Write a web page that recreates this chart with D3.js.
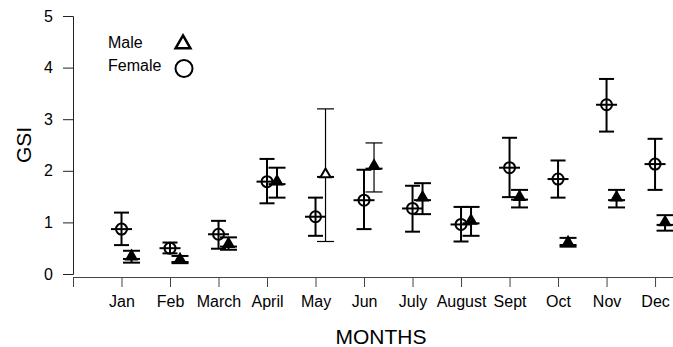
<!DOCTYPE html>
<html>
<head>
<meta charset="utf-8">
<style>
  body { margin: 0; background: #fff; }
  svg text { font-family: "Liberation Sans", Arial, sans-serif; fill: #000; }
</style>
</head>
<body>
<script src="https://cdn.jsdelivr.net/npm/d3@7"></script>
<script>
// GSI per month
var months = ["Jan", "Feb", "March", "April", "May", "Jun", "July", "August", "Sept", "Oct", "Nov", "Dec"]
var femaleMean = [0.87, 0.50, 0.77, 1.79, 1.11, 1.43, 1.27, 0.96, 2.06, 1.84, 3.28, 2.13]
var femaleLow  = [0.56, 0.40, 0.49, 1.37, 0.74, 0.87, 0.82, 0.63, 1.49, 1.48, 2.76, 1.63]
var femaleHigh = [1.19, 0.61, 1.03, 2.23, 1.48, 2.02, 1.71, 1.30, 2.64, 2.20, 3.78, 2.62]
var maleMean = [0.34, 0.28, 0.58, 1.79, 1.93, 2.09, 1.48, 1.03, 1.49, 0.61, 1.48, 1.00]
var maleLow  = [0.22, 0.21, 0.47, 1.48, 0.63, 1.59, 1.16, 0.74, 1.29, 0.53, 1.29, 0.84]
var maleHigh = [0.45, 0.35, 0.71, 2.06, 3.20, 2.54, 1.76, 1.30, 1.63, 0.70, 1.63, 1.14]
var yTicks = [0, 1, 2, 3, 4, 5]

var width = 673, height = 347

var svg = d3.select("body").append("svg")
    .attr("width", width)
    .attr("height", height)

var x = d3.scaleLinear().domain([0, 12.37]).range([73, 673])
var y = d3.scaleLinear().domain([0, 5]).range([274, 16])

// y axis
var yAxis = svg.append("g")
    .attr("transform", "translate(73,0)")
    .call(d3.axisLeft(y).tickValues(yTicks).tickSize(10).tickPadding(10).tickFormat(d3.format("d")))
yAxis.selectAll("text").style("font-size", "16px")
yAxis.selectAll("path, line").attr("stroke", "#222")

// x axis sits a little below zero
var xAxis = svg.append("g")
    .attr("transform", "translate(0,277)")
    .call(d3.axisBottom(x).tickValues(d3.range(0, 13)).tickSizeOuter(0).tickSize(10).tickPadding(9)
        .tickFormat(d => d === 0 ? "" : months[d - 1]))
xAxis.selectAll("text").style("font-size", "16px")
xAxis.selectAll("path, line").attr("stroke", "#444")

svg.append("text")
    .attr("transform", "translate(31,145) rotate(-90)")
    .attr("text-anchor", "middle")
    .style("font-size", "21px")
    .text("GSI")

svg.append("text")
    .attr("x", 381)
    .attr("y", 344)
    .attr("text-anchor", "middle")
    .style("font-size", "21px")
    .text("MONTHS")

// build rows
var female = months.map((m, i) => ({i: i + 1, mean: femaleMean[i], lo: femaleLow[i], hi: femaleHigh[i]}))
var male = months.map((m, i) => ({i: i + 1, mean: maleMean[i], lo: maleLow[i], hi: maleHigh[i]}))

var maleShift = 10

// female error bars + circle with cross
var fg = svg.selectAll(".female").data(female).enter().append("g")
    .attr("class", "female")
    .attr("stroke", "#000")
    .attr("stroke-width", 2)
    .attr("fill", "none")

fg.append("line")
    .attr("x1", d => x(d.i)).attr("x2", d => x(d.i))
    .attr("y1", d => y(d.lo)).attr("y2", d => y(d.hi))
fg.append("line")
    .attr("x1", d => x(d.i) - 7.5).attr("x2", d => x(d.i) + 7.5)
    .attr("y1", d => y(d.hi)).attr("y2", d => y(d.hi))
fg.append("line")
    .attr("x1", d => x(d.i) - 7.5).attr("x2", d => x(d.i) + 7.5)
    .attr("y1", d => y(d.lo)).attr("y2", d => y(d.lo))
fg.append("line")
    .attr("x1", d => x(d.i) - 10.5).attr("x2", d => x(d.i) + 10.5)
    .attr("y1", d => y(d.mean)).attr("y2", d => y(d.mean))
fg.append("circle")
    .attr("cx", d => x(d.i))
    .attr("cy", d => y(d.mean))
    .attr("r", 5.5)

// male error bars + triangles (wide bars drawn thin, like the original)
var mg = svg.selectAll(".male").data(male).enter().append("g")
    .attr("class", "male")
    .attr("stroke", "#000")
    .attr("stroke-width", d => (d.hi - d.lo) > 0.8 ? 1.2 : 2)

mg.append("line")
    .attr("x1", d => x(d.i) + maleShift).attr("x2", d => x(d.i) + maleShift)
    .attr("y1", d => y(d.lo)).attr("y2", d => y(d.hi))
mg.append("line")
    .attr("x1", d => x(d.i) + maleShift - 8.5).attr("x2", d => x(d.i) + maleShift + 8.5)
    .attr("y1", d => y(d.hi)).attr("y2", d => y(d.hi))
mg.append("line")
    .attr("x1", d => x(d.i) + maleShift - 8.5).attr("x2", d => x(d.i) + maleShift + 8.5)
    .attr("y1", d => y(d.lo)).attr("y2", d => y(d.lo))
mg.append("line")
    .attr("stroke-width", 2)
    .attr("x1", d => x(d.i) + maleShift - 8.5).attr("x2", d => x(d.i) + maleShift + 8.5)
    .attr("y1", d => y(d.mean) + 2.5).attr("y2", d => y(d.mean) + 2.5)
mg.append("path")
    .attr("d", d3.symbol(d3.symbolTriangle).size(45))
    .attr("transform", d => `translate(${x(d.i) + maleShift},${y(d.mean)})`)
    .attr("stroke-width", 2)
    .attr("stroke-linejoin", "miter")
    .attr("fill", d => (d.hi - d.lo) > 2 ? "#fff" : "#000")

// legend
var legend = svg.append("g")
legend.append("text").attr("x", 108).attr("y", 48).style("font-size", "16px").text("Male")
legend.append("text").attr("x", 108).attr("y", 71).style("font-size", "16px").text("Female")
legend.append("path")
    .attr("d", d3.symbol(d3.symbolTriangle).size(95))
    .attr("transform", "translate(183,44)")
    .attr("fill", "none")
    .attr("stroke", "#000")
    .attr("stroke-width", 2.5)
legend.append("circle")
    .attr("cx", 184).attr("cy", 68.5).attr("r", 8.5)
    .attr("fill", "none")
    .attr("stroke", "#000")
    .attr("stroke-width", 2)
</script>
</body>
</html>
